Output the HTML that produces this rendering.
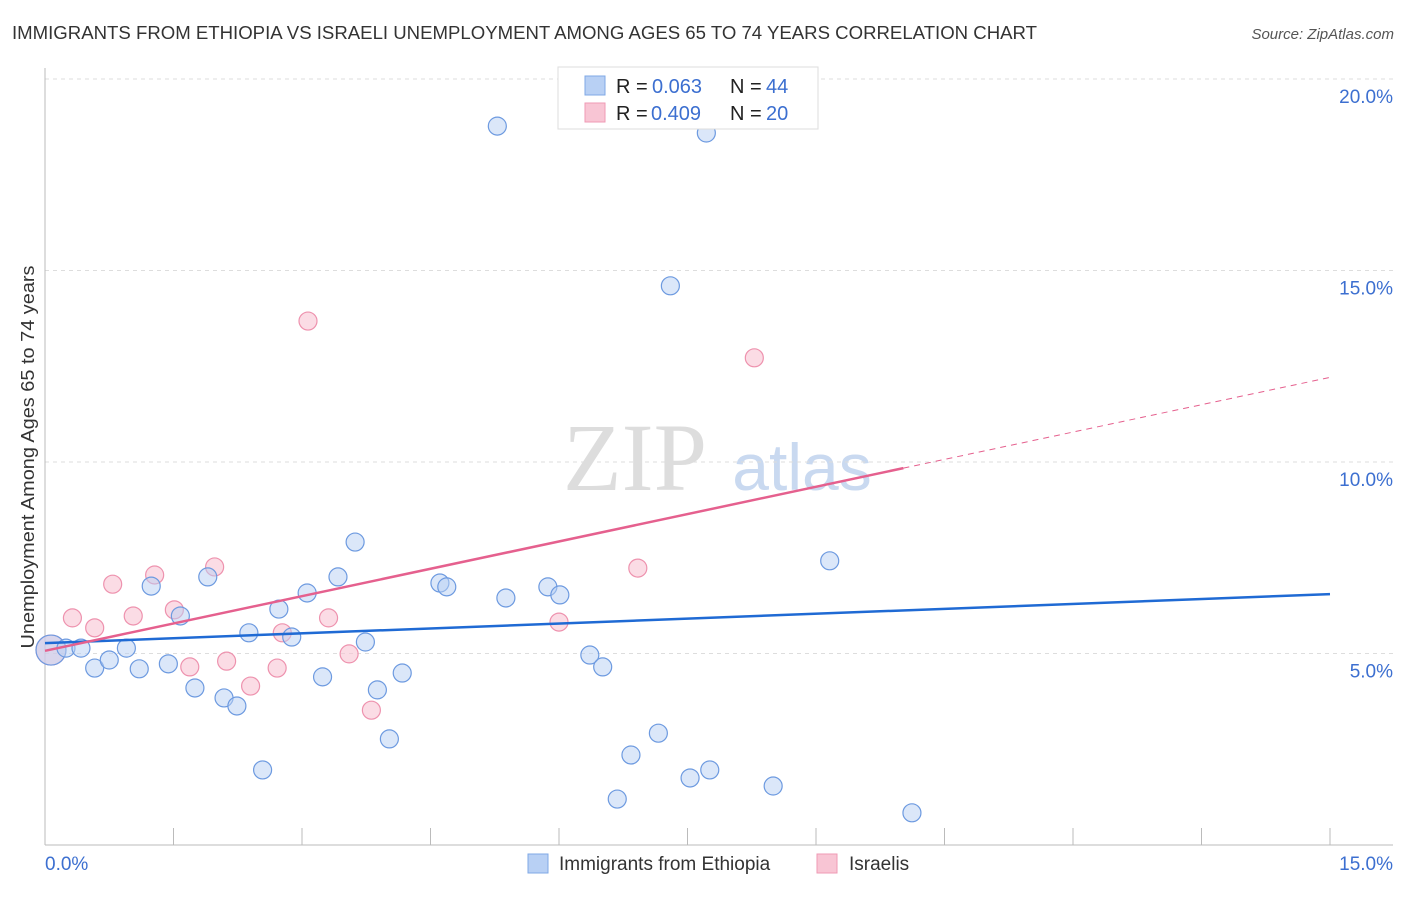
<!DOCTYPE html>
<html><head><meta charset="utf-8"><style>
body{margin:0;background:#fff;font-family:"Liberation Sans",sans-serif}
</style></head><body>
<svg id="c" width="1406" height="892" xmlns="http://www.w3.org/2000/svg">
<text x="12" y="39" font-size="18" fill="#333" textLength="1025" lengthAdjust="spacingAndGlyphs">IMMIGRANTS FROM ETHIOPIA VS ISRAELI UNEMPLOYMENT AMONG AGES 65 TO 74 YEARS CORRELATION CHART</text>
<text x="1394" y="39" font-size="15" fill="#555" font-style="italic" text-anchor="end">Source: ZipAtlas.com</text>
<text x="0" y="0" transform="translate(34,457) rotate(-90)" font-size="18" fill="#333" text-anchor="middle" textLength="383" lengthAdjust="spacingAndGlyphs">Unemployment Among Ages 65 to 74 years</text>
<g><text x="635" y="490" font-size="96" font-family="Liberation Serif,serif" fill="#ddd" text-anchor="middle">ZIP</text><text x="802" y="490" font-size="66" fill="#c9d9f0" text-anchor="middle">atlas</text></g>
<g id="grid"></g><g id="axes"></g><g id="marks"></g>
<g>
<rect x="558" y="67" width="260" height="62" fill="#fff" stroke="#ddd"/>
<rect x="585" y="76" width="20" height="19" fill="#b8d0f4" stroke="#7fa8e6"/>
<rect x="585" y="103" width="20" height="19" fill="#f8c5d4" stroke="#ef9ab4"/>
<text x="616" y="93" font-size="20" fill="#222">R =</text><text x="652" y="93" font-size="20" fill="#3c6fd0">0.063</text>
<text x="730" y="93" font-size="20" fill="#222">N =</text><text x="766" y="93" font-size="20" fill="#3c6fd0">44</text>
<text x="616" y="120" font-size="20" fill="#222">R =</text><text x="651" y="120" font-size="20" fill="#3c6fd0">0.409</text>
<text x="730" y="120" font-size="20" fill="#222">N =</text><text x="766" y="120" font-size="20" fill="#3c6fd0">20</text>
</g>
<g>
<rect x="528" y="854" width="20" height="19" fill="#b8d0f4" stroke="#7fa8e6"/>
<text x="559" y="870" font-size="19" fill="#333">Immigrants from Ethiopia</text>
<rect x="817" y="854" width="20" height="19" fill="#f8c5d4" stroke="#ef9ab4"/>
<text x="849" y="870" font-size="19" fill="#333">Israelis</text>
</g>
</svg>
<script>
const yTicks=[5,10,15,20];
const yTickLabels=["5.0%","10.0%","15.0%","20.0%"];
const xTickLabels=["0.0%","15.0%"];
const blueX=[0.07,0.245,0.42,0.58,0.75,0.95,1.10,1.24,1.44,1.58,1.75,1.90,2.09,2.24,2.38,2.54,2.73,2.88,3.06,3.24,3.42,3.62,3.74,3.88,4.02,4.17,4.61,4.69,5.28,5.38,5.87,6.01,6.36,6.51,6.68,6.84,7.16,7.30,7.53,7.72,7.76,8.50,9.16,10.12];
const blueY=[5.09,5.14,5.14,4.62,4.83,5.14,4.60,6.76,4.73,5.98,4.10,7.00,3.84,3.63,5.54,1.96,6.16,5.43,6.58,4.39,7.00,7.91,5.30,4.05,2.77,4.49,6.84,6.74,18.77,6.45,6.74,6.53,4.96,4.65,1.20,2.35,2.92,14.60,1.75,18.59,1.96,1.54,7.42,0.84];
const pinkX=[0.07,0.32,0.58,0.79,1.03,1.28,1.51,1.69,1.98,2.12,2.40,2.71,2.77,3.07,3.31,3.55,3.81,6.00,6.92,8.28];
const pinkY=[5.09,5.93,5.67,6.81,5.98,7.05,6.14,4.65,7.26,4.80,4.15,4.62,5.54,13.68,5.93,4.99,3.52,5.82,7.23,12.72];
const blueTrend=[5.27,6.55];
const pinkTrend=[5.07,12.21];
const pinkSolidEnd=10.02;
const X=v=>45+v/15*1285, Y=v=>845-v*38.3;
const NS="http://www.w3.org/2000/svg";
function mk(t,a,p){const e=document.createElementNS(NS,t);for(const k in a)e.setAttribute(k,a[k]);p.appendChild(e);return e;}
const g=document.getElementById('grid'),ax=document.getElementById('axes'),m=document.getElementById('marks');
yTicks.forEach((t,i)=>{
 const l=mk('line',{x1:45,x2:1393,y1:Y(t),y2:Y(t),stroke:'#ddd','stroke-dasharray':'4,4'},g);
 
 
 const tx=mk('text',{x:1393,y:Y(t)+24,'font-size':19,fill:'#3c6fd0','text-anchor':'end'},ax);
 tx.textContent=yTickLabels[i];
 
 
});
mk('line',{x1:45,x2:45,y1:68,y2:845,stroke:'#bbb'},ax);
mk('line',{x1:45,x2:1393,y1:845,y2:845,stroke:'#bbb'},ax);
for(let i=0;i<=10;i++){const x=X(i*1.5);const t=mk('line',{x1:x,x2:x,y1:828,y2:845,stroke:'#bbb'},ax);}
[[0,'start',45],[15,'end',1393]].forEach((d,i)=>{const t=mk('text',{x:d[2],y:870,'font-size':19,fill:'#3c6fd0','text-anchor':d[1]},ax);t.textContent=xTickLabels[i];});
function pts(xs,ys,fill,stroke,name,op){xs.forEach((x,i)=>{const c=mk('circle',{cx:X(x),cy:Y(ys[i]),r:i===0?15:9,fill:fill,'fill-opacity':op,stroke:stroke,'stroke-width':1.2},m);});}
pts(pinkX,pinkY,'#f8c5d4','#ee92ae','point-israelis',0.6);
pts(blueX,blueY,'#b8d0f4','#6d9ae0','point-ethiopia',0.5);
let l=mk('line',{x1:X(0),y1:Y(blueTrend[0]),x2:X(15),y2:Y(blueTrend[1]),stroke:'#1f6ad4','stroke-width':2.5},m);

const py=x=>pinkTrend[0]+(pinkTrend[1]-pinkTrend[0])*x/15;
l=mk('line',{x1:X(0),y1:Y(pinkTrend[0]),x2:X(pinkSolidEnd),y2:Y(py(pinkSolidEnd)),stroke:'#e5608e','stroke-width':2.5},m);

l=mk('line',{x1:X(pinkSolidEnd),y1:Y(py(pinkSolidEnd)),x2:X(15),y2:Y(pinkTrend[1]),stroke:'#e5608e','stroke-width':1,'stroke-dasharray':'6,5'},m);

</script>
</body></html>
